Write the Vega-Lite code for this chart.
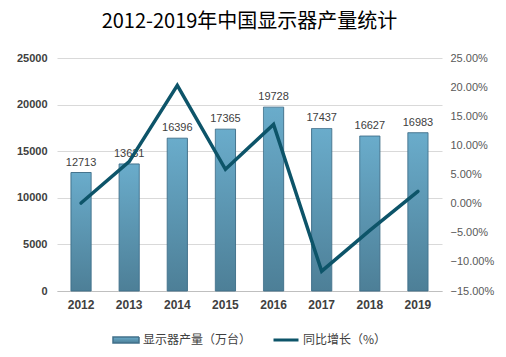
{
  "$schema": "https://vega.github.io/schema/vega-lite/v6.json",
  "width": 385,
  "height": 233,
  "padding": {"left": 57, "top": 58, "right": 64, "bottom": 66},
  "autosize": {"type": "none"},
  "title": {"text": "2012-2019年中国显示器产量统计", "font": "Noto Sans CJK SC", "fontSize": 20, "fontWeight": "normal", "color": "#000000", "offset": 20, "anchor": "middle"},
  "data": {"values": [
    {"year": "2012", "output": 12713, "growth": 0.1},
    {"year": "2013", "output": 13631, "growth": 7.2},
    {"year": "2014", "output": 16396, "growth": 20.3},
    {"year": "2015", "output": 17365, "growth": 5.9},
    {"year": "2016", "output": 19728, "growth": 13.6},
    {"year": "2017", "output": 17437, "growth": -11.6},
    {"year": "2018", "output": 16627, "growth": -4.6},
    {"year": "2019", "output": 16983, "growth": 2.1}
  ]},
  "encoding": {
    "x": {"field": "year", "type": "nominal", "scale": {"paddingInner": 0.58, "paddingOuter": 0.29},
      "axis": {"title": null, "labelAngle": 0, "labelFont": "Liberation Sans", "labelFontSize": 12, "labelFontWeight": "bold", "labelColor": "#404040", "ticks": false, "domainColor": "#bfbfbf", "labelPadding": 8}}
  },
  "layer": [
    {
      "mark": {"type": "bar", "stroke": "#41708a", "strokeWidth": 1,
        "fill": {"gradient": "linear", "x1": 0, "y1": 0, "x2": 0, "y2": 1, "stops": [{"offset": 0, "color": "#6aaccb"}, {"offset": 1, "color": "#4d7f97"}]}},
      "encoding": {
        "y": {"field": "output", "type": "quantitative", "scale": {"domain": [0, 25000]},
          "axis": {"title": null, "values": [0, 5000, 10000, 15000, 20000, 25000], "format": "d", "labelFont": "Liberation Sans", "labelFontSize": 11, "labelFontWeight": "bold", "labelColor": "#404040", "ticks": false, "domain": false, "gridColor": "#d9d9d9", "labelPadding": 10}},
        "strokeDash": {"datum": "显示器产量（万台）", "type": "nominal",
          "scale": {"domain": ["显示器产量（万台）"], "range": [[1, 0]]},
          "legend": {"title": null, "orient": "bottom", "direction": "horizontal", "offset": 16,
            "symbolType": "M-1,-0.23H1V0.23H-1Z", "symbolSize": 676, "labelOffset": 3,
            "labelFont": "Noto Sans CJK SC", "labelFontSize": 12, "labelColor": "#404040",
            "encoding": {"symbols": {"update": {
              "fill": {"value": "#5b96b3"},
              "stroke": {"value": "#41708a"},
              "strokeWidth": {"value": 1},
              "strokeDash": {"value": [1, 0]},
              "opacity": {"value": 1}
            }}}}}
      }
    },
    {
      "mark": {"type": "text", "dy": -10, "font": "Liberation Sans", "fontSize": 11, "color": "#404040"},
      "encoding": {
        "y": {"field": "output", "type": "quantitative", "scale": {"domain": [0, 25000]}, "axis": null},
        "text": {"field": "output", "type": "quantitative", "format": "d"}
      }
    },
    {
      "mark": {"type": "line", "strokeWidth": 3.5, "strokeCap": "round"},
      "encoding": {
        "y": {"field": "growth", "type": "quantitative", "scale": {"domain": [-15, 25]},
          "axis": {"title": null, "orient": "right", "values": [-15, -10, -5, 0, 5, 10, 15, 20, 25], "labelExpr": "format(datum.value, '.2f') + '%'", "labelFont": "Liberation Sans", "labelFontSize": 11, "labelColor": "#595959", "ticks": false, "domain": false, "grid": false, "labelPadding": 8}},
        "stroke": {"datum": "同比增长（%）", "type": "nominal",
          "scale": {"domain": ["同比增长（%）"], "range": ["#0d5469"]},
          "legend": {"title": null, "orient": "bottom", "direction": "horizontal", "offset": 16, "symbolType": "stroke", "symbolStrokeWidth": 3, "symbolSize": 625, "labelOffset": 3, "labelFont": "Noto Sans CJK SC", "labelFontSize": 12, "labelColor": "#404040"}}
      }
    }
  ],
  "resolve": {"scale": {"y": "independent", "stroke": "independent", "strokeDash": "independent"}},
  "config": {
    "view": {"stroke": null},
    "legend": {"layout": {"bottom": {"direction": "horizontal", "anchor": "middle", "margin": 20}}}
  }
}
